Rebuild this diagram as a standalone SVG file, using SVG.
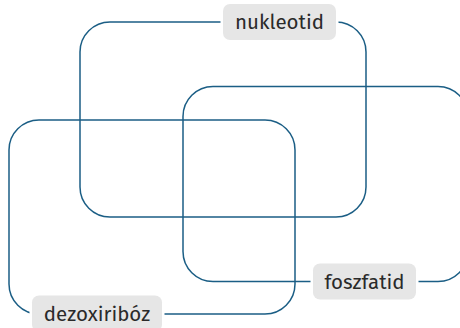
<svg xmlns="http://www.w3.org/2000/svg" width="460" height="328" viewBox="0 0 460 328">
<style>
.set{fill:none;stroke:#1b5e85;stroke-width:1.5}
.box{fill:#e6e6e6;stroke:#fff;stroke-width:5;paint-order:stroke}
.lbl{font-family:"Fira Sans","Noto Sans","Open Sans",sans-serif;font-size:20.5px;fill:#2a2a2a;text-anchor:middle}
</style>
<rect width="460" height="328" fill="#fff"/>
<g id="connectors">
<rect class="set" x="80" y="22" width="286" height="195" rx="30"/>
<rect class="set" x="183" y="86.5" width="285" height="195" rx="30"/>
<rect class="set" x="9" y="120" width="286" height="194" rx="30"/>
</g>
<g id="nukleotid">
<rect class="box" x="223" y="4" width="113" height="36" rx="7"/>
<text class="lbl" x="279.5" y="29">nukleotid</text>
</g>
<g id="foszfatid">
<rect class="box" x="313" y="263.5" width="103" height="36" rx="7"/>
<text class="lbl" x="364.5" y="288.5">foszfatid</text>
</g>
<g id="dezoxiriboz">
<rect class="box" x="32" y="295.5" width="130" height="36" rx="7"/>
<text class="lbl" x="97" y="320.5">dezoxiribóz</text>
</g>
</svg>
